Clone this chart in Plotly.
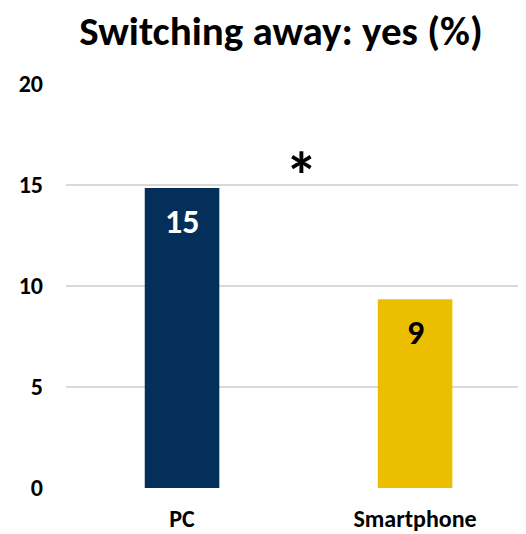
import plotly.graph_objects as go

categories = ["PC", "Smartphone"]
values = [14.85, 9.35]
labels = ["15", "9"]
bar_colors = ["#042F5A", "#EBBF00"]
label_colors = ["white", "black"]
y_ticks = [0, 5, 10, 15, 20]
star_text = "*"
star_y = 15.8

FONT = "Carlito, Lato, sans-serif"

fig = go.Figure()
fig.add_trace(go.Bar(
    x=[0, 1], y=values, marker_color=bar_colors, width=0.32,
    marker_line_width=0, hoverinfo="skip",
))
for i, (v, t, c) in enumerate(zip(values, labels, label_colors)):
    fig.add_annotation(x=i, y=v, text=f"<b>{t}</b>", showarrow=False,
                       yanchor="middle", yshift=-33,
                       font=dict(family=FONT, size=34, color=c))
fig.add_annotation(x=0.5, y=star_y, text=f"<b>{star_text}</b>", showarrow=False,
                   yanchor="middle", xshift=3, yshift=-8,
                   font=dict(family=FONT, size=66, color="black"))

# the page body adds an 8px offset, so the figure is 8px smaller
fig.update_layout(
    width=518, height=526,
    margin=dict(l=58, r=0, t=76, b=46),
    paper_bgcolor="white", plot_bgcolor="white",
    showlegend=False,
    title=dict(text="<b>Switching away: yes (%)</b>", x=0.527, xanchor="center",
               y=0.957, yanchor="middle",
               font=dict(family=FONT, size=41, color="black")),
    xaxis=dict(range=[-0.498, 1.476], tickvals=[0, 1],
               ticktext=[f"<b>{c}</b>" for c in categories],
               tickfont=dict(family=FONT, size=24, color="black"),
               showgrid=False, zeroline=False, showline=False, ticks="",
               ticklabelstandoff=14, automargin=False),
    yaxis=dict(range=[0, 20], tickvals=y_ticks,
               ticktext=[f"<b>{t}</b>" for t in y_ticks],
               tickfont=dict(family=FONT, size=24, color="black"),
               showgrid=True, gridcolor="#D9D9D9", gridwidth=1.5,
               zeroline=False, showline=False, ticks="",
               ticklabelstandoff=22, automargin=False),
)
fig.write_html("out.html")
